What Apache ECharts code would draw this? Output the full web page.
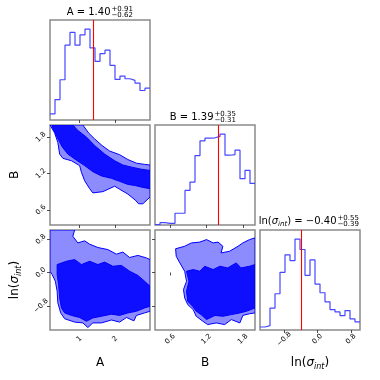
<!DOCTYPE html>
<html>
<head>
<meta charset="utf-8">
<script src="https://cdn.jsdelivr.net/npm/echarts@6/dist/echarts.min.js"></script>
<style>
  html, body { margin: 0; padding: 0; background: #fff; }
  #main { width: 380px; height: 380px; }
</style>
</head>
<body>
<div id="main"></div>
<script>
// parameters, axis ranges and ticks
const names = ['A', 'B', 'ln(σint)'];
const ranges = [[0.18, 2.98], [0.35, 2.0], [-1.38, 1.02]];
const tickVals = [[1, 2], [0.6, 1.2, 1.8], [-0.8, 0, 0.8]];
const tickLabels = [['1', '2'], ['0.6', '1.2', '1.8'], ['−0.8', '0.0', '0.8']];
const medians = [1.40, 1.39, -0.40];
const errPlus = ['+0.91', '+0.35', '+0.55'];
const errMinus = ['−0.62', '−0.31', '−0.39'];

// 1D histograms (20 bins over each range)
const histA = [18, 61, 120, 223, 261, 223, 254, 271, 215, 175, 198, 208, 163, 121, 131, 123, 118, 110, 88, 95];
const histB = [1, 7, 5, 5, 35, 35, 103, 128, 207, 251, 259, 260, 264, 271, 208, 210, 223, 138, 163, 124];
const histL = [9, 13, 65, 108, 172, 224, 207, 271, 240, 163, 209, 137, 111, 84, 61, 54, 43, 58, 33, 24];
const hists = [histA, histB, histL];

// 2D contour levels (data coords)
const AB_outer = [[0.18,2.00],[0.31,1.87],[0.40,1.71],[0.45,1.52],[0.54,1.45],[0.78,1.41],[1.01,1.33],[1.06,1.22],[1.15,1.08],[1.29,0.95],[1.38,0.88],[1.66,0.90],[1.99,0.99],[2.13,0.94],[2.36,0.86],[2.57,0.76],[2.66,0.70],[2.78,0.70],[2.98,0.81],[2.98,1.34],[2.83,1.35],[2.60,1.37],[2.36,1.43],[2.13,1.51],[1.85,1.57],[1.64,1.66],[1.43,1.77],[1.26,1.87],[1.10,2.00]];
const AB_inner = [[0.24,2.00],[0.82,2.00],[0.96,1.91],[1.20,1.80],[1.43,1.66],[1.71,1.52],[1.99,1.41],[2.22,1.34],[2.50,1.30],[2.74,1.27],[2.98,1.25],[2.98,0.95],[2.78,0.97],[2.57,1.00],[2.36,1.02],[2.13,1.07],[1.90,1.12],[1.62,1.16],[1.38,1.23],[1.15,1.33],[0.92,1.42],[0.68,1.52],[0.52,1.64],[0.38,1.80],[0.26,1.95]];
const AL_outer = [[0.18,1.02],[0.87,1.02],[0.82,0.87],[0.96,0.71],[1.15,0.76],[1.29,0.68],[1.52,0.60],[1.80,0.55],[2.04,0.44],[2.22,0.49],[2.41,0.36],[2.64,0.41],[2.88,0.35],[2.98,0.31],[2.98,-0.93],[2.83,-0.97],[2.60,-1.03],[2.53,-1.16],[2.32,-1.08],[2.13,-1.19],[1.90,-1.14],[1.62,-1.21],[1.38,-1.21],[1.24,-1.32],[1.10,-1.21],[0.87,-1.19],[0.59,-1.11],[0.48,-0.97],[0.40,-0.73],[0.38,-0.45],[0.33,-0.21],[0.24,-0.05],[0.18,0.03]];
const AL_inner = [[0.38,0.19],[0.64,0.27],[0.87,0.31],[1.06,0.19],[1.29,0.27],[1.52,0.19],[1.71,0.25],[1.94,0.15],[2.18,0.17],[2.41,0.03],[2.64,-0.07],[2.83,-0.21],[2.98,-0.33],[2.98,-0.81],[2.83,-0.85],[2.60,-0.93],[2.36,-0.97],[2.13,-1.03],[1.90,-1.00],[1.62,-1.05],[1.38,-1.09],[1.20,-1.17],[1.01,-1.08],[0.78,-1.03],[0.59,-0.97],[0.50,-0.85],[0.45,-0.61],[0.42,-0.29],[0.38,-0.05]];
const BL_outer = [[0.69,0.57],[0.84,0.63],[0.95,0.71],[1.09,0.73],[1.20,0.79],[1.31,0.71],[1.39,0.73],[1.47,0.63],[1.44,0.47],[1.58,0.51],[1.72,0.63],[1.80,0.71],[1.91,0.79],[2.00,0.83],[2.00,-0.97],[1.91,-0.99],[1.80,-1.03],[1.75,-1.21],[1.61,-1.13],[1.50,-1.25],[1.36,-1.21],[1.22,-1.25],[1.14,-1.17],[1.03,-1.05],[0.98,-0.89],[0.89,-0.77],[0.84,-0.61],[0.82,-0.41],[0.87,-0.21],[0.84,0.03],[0.76,0.23],[0.70,0.39]];
const BL_inner = [[0.87,0.03],[0.98,0.07],[1.09,0.03],[1.17,0.15],[1.31,0.07],[1.42,0.15],[1.55,0.11],[1.69,0.23],[1.77,0.11],[1.91,0.15],[2.00,0.19],[2.00,-0.85],[1.86,-0.93],[1.75,-0.97],[1.61,-1.01],[1.47,-1.05],[1.34,-1.03],[1.20,-1.13],[1.11,-1.01],[1.03,-0.93],[0.97,-0.81],[0.89,-0.69],[0.87,-0.45],[0.91,-0.21]];

const LIGHT = '#8c8cff';
const DARK = '#0f0fff';
const BLUE = '#0000ff';
const FONT = 'DejaVu Sans';

const chart = echarts.init(document.getElementById('main'));

const colX = [50, 155, 260];
const rowY = [20, 125, 230];
const SIZE = 100;

const grids = [], xAxes = [], yAxes = [], series = [];
const idx = {};

function labelFmt(p) {
  return v => {
    const k = tickVals[p].findIndex(t => Math.abs(t - v) < 1e-9);
    return k >= 0 ? tickLabels[p][k] : '';
  };
}

function valueAxis(gi, p, showLabel) {
  return {
    type: 'value', gridIndex: gi, min: ranges[p][0], max: ranges[p][1],
    axisLine: { show: false }, splitLine: { show: false },
    axisTick: { show: true, customValues: tickVals[p], length: 3, inside: false, lineStyle: { color: '#222', width: 0.8 } },
    axisLabel: {
      show: showLabel, customValues: tickVals[p], formatter: labelFmt(p), rotate: 45,
      fontSize: 7, color: '#000', fontFamily: FONT, margin: 9,
      align: 'center', verticalAlign: 'middle'
    }
  };
}

for (let r = 0; r < 3; r++) {
  for (let c = 0; c <= r; c++) {
    const gi = grids.length;
    idx[r + '_' + c] = gi;
    grids.push({ left: colX[c], top: rowY[r], width: SIZE, height: SIZE, show: true,
      borderColor: '#8a8a8a', borderWidth: 1.5, backgroundColor: 'transparent' });
    xAxes.push(valueAxis(gi, c, r === 2));
    if (r === c) {
      const mx = Math.max(...hists[r]) * 1.1;
      yAxes.push({ type: 'value', gridIndex: gi, min: 0, max: mx, show: false });
    } else {
      yAxes.push(valueAxis(gi, r, c === 0));
    }
  }
}

// histograms
for (let p = 0; p < 3; p++) {
  const gi = idx[p + '_' + p];
  const h = hists[p];
  const w = (ranges[p][1] - ranges[p][0]) / h.length;
  const pts = h.map((v, i) => [ranges[p][0] + i * w, v]);
  pts.push([ranges[p][1], h[h.length - 1]]);
  series.push({
    type: 'line', xAxisIndex: gi, yAxisIndex: gi, data: pts, step: 'end',
    symbol: 'none', lineStyle: { color: '#4646ff', width: 1.2 }, silent: true,
    markLine: {
      silent: true, symbol: 'none', label: { show: false },
      lineStyle: { color: '#ff0000', width: 1.1, type: 'solid' },
      data: [{ xAxis: medians[p] }]
    }
  });
}

function contour(key, levels) {
  const gi = idx[key];
  series.push({
    type: 'custom', xAxisIndex: gi, yAxisIndex: gi, clip: true, silent: true,
    data: levels.map((lv, k) => [lv.pts[0][0], lv.pts[0][1], k]),
    renderItem: (params, api) => {
      const lv = levels[params.dataIndex];
      return {
        type: 'polygon',
        shape: { points: lv.pts.map(d => api.coord(d)) },
        style: { fill: lv.fill, stroke: BLUE, lineWidth: 1 }
      };
    }
  });
}
contour('1_0', [{ pts: AB_outer, fill: LIGHT }, { pts: AB_inner, fill: DARK }]);
contour('2_0', [{ pts: AL_outer, fill: LIGHT }, { pts: AL_inner, fill: DARK }]);
contour('2_1', [{ pts: BL_outer, fill: LIGHT }, { pts: BL_inner, fill: DARK }]);

// titles and axis names
const titleAnchor = [[110.5, 12.5], [213.5, 117.5], [336.5, 221.5]];
const graphics = [];
const lnRich = {
  n: { fontSize: 10, fontFamily: FONT, color: '#000', lineHeight: 12, verticalAlign: 'middle' },
  i: { fontSize: 10, fontFamily: FONT, fontStyle: 'italic', color: '#000', lineHeight: 12, verticalAlign: 'middle' },
  s: { fontSize: 7, fontFamily: FONT, fontStyle: 'italic', color: '#000', lineHeight: 8, verticalAlign: 'bottom' }
};
const mainTitles = [
  '{n|A = ' + medians[0].toFixed(2) + '}',
  '{n|B = ' + medians[1].toFixed(2) + '}',
  '{n|ln(}{i|σ}{s|int}{n|) = −' + Math.abs(medians[2]).toFixed(2) + '}'
];
for (let p = 0; p < 3; p++) {
  const [ax, ay] = titleAnchor[p];
  graphics.push({ type: 'text', x: ax, y: ay, style: { text: mainTitles[p], rich: lnRich, align: 'right', verticalAlign: 'middle' } });
  graphics.push({ type: 'text', x: ax + 1, y: ay - 3, style: { text: errPlus[p], fontSize: 7, fontFamily: FONT, fill: '#000', align: 'left', verticalAlign: 'middle' } });
  graphics.push({ type: 'text', x: ax + 1, y: ay + 3, style: { text: errMinus[p], fontSize: 7, fontFamily: FONT, fill: '#000', align: 'left', verticalAlign: 'middle' } });
}
const nameRich = {
  n: { fontSize: 12, fontFamily: FONT, color: '#000', lineHeight: 15, verticalAlign: 'middle' },
  i: { fontSize: 12, fontFamily: FONT, fontStyle: 'italic', color: '#000', lineHeight: 15, verticalAlign: 'middle' },
  s: { fontSize: 8, fontFamily: FONT, fontStyle: 'italic', color: '#000', lineHeight: 10, verticalAlign: 'bottom' }
};
const nameText = ['{n|A}', '{n|B}', '{n|ln(}{i|σ}{s|int}{n|)}'];
for (let p = 0; p < 3; p++) {
  graphics.push({ type: 'text', x: colX[p] + SIZE / 2, y: 363,
    style: { text: nameText[p], rich: nameRich, align: 'center', verticalAlign: 'middle' } });
}
for (let p = 1; p < 3; p++) {
  graphics.push({ type: 'text', x: 15, y: rowY[p] + SIZE / 2, rotation: Math.PI / 2,
    style: { text: nameText[p], rich: nameRich, align: 'center', verticalAlign: 'middle' } });
}

chart.setOption({
  animation: false,
  backgroundColor: '#fff',
  grid: grids,
  xAxis: xAxes,
  yAxis: yAxes,
  series: series,
  graphic: graphics
});
</script>
</body>
</html>
